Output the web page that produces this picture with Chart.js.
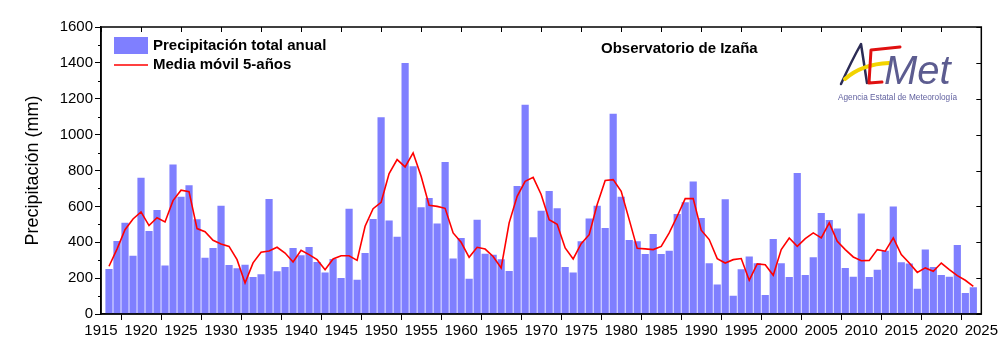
<!DOCTYPE html>
<html>
<head>
<meta charset="utf-8">
<script src="https://cdn.jsdelivr.net/npm/chart.js@4.4.1/dist/chart.umd.min.js"></script>
<style>
  html, body { margin: 0; padding: 0; background: #fff; }
  canvas { display: block; }
</style>
</head>
<body>
<canvas id="chart" width="1000" height="361"></canvas>
<script>
// annual precipitation at Izaña, 1916-2024 (mm)
const years = [];
for (let y = 1916; y <= 2024; y++) years.push(y);

const precip = [
  251, 407, 509, 325, 760, 463, 580, 271, 833, 654,   // 1916-1925
  718, 528, 314, 368, 604, 273, 255, 275, 206, 221,   // 1926-1935
  641, 238, 262, 368, 327, 374, 290, 232, 307, 201,   // 1936-1945
  587, 191, 340, 530, 1097, 521, 431, 1400, 824, 595, // 1946-1955
  647, 504, 848, 309, 424, 197, 526, 336, 331, 305,   // 1956-1965
  240, 714, 1167, 428, 576, 686, 589, 262, 232, 405,  // 1966-1975
  532, 604, 480, 1117, 654, 413, 405, 335, 446, 335,  // 1976-1985
  353, 558, 623, 738, 535, 283, 164, 640, 102, 249,   // 1986-1995
  320, 283, 106, 418, 283, 206, 786, 217, 316, 563,   // 1996-2005
  524, 476, 257, 208, 560, 206, 247, 353, 599, 288,   // 2006-2015
  281, 141, 359, 262, 217, 208, 385, 117, 149          // 2016-2024
];

const movingAvg = [
  266, 362, 470, 530, 569, 493, 537, 513, 632, 690,
  682, 476, 459, 411, 390, 377, 303, 173, 285, 344,
  351, 372, 340, 290, 355, 331, 303, 247, 307, 325,
  325, 299, 489, 587, 623, 783, 861, 820, 898, 768,
  606, 600, 589, 452, 400, 316, 372, 362, 321, 257,
  508, 656, 740, 762, 666, 526, 500, 368, 307, 392,
  442, 610, 744, 749, 684, 526, 366, 363, 359, 377,
  452, 545, 643, 643, 467, 415, 309, 284, 303, 309,
  188, 279, 275, 216, 359, 424, 377, 420, 452, 424,
  508, 405, 359, 318, 297, 299, 359, 350, 424, 331,
  284, 232, 257, 238, 284, 247, 214, 188, 154
];

const yTicks = [0, 200, 400, 600, 800, 1000, 1200, 1400, 1600];
const xTickStep = 5;

const BAR = '#7f7fff';
const LINE = '#ff0000';
const SANS = "'Liberation Sans', Arial, sans-serif";

// frame, inward mirror ticks, minor ticks on the left axis
const frame = {
  id: 'frame',
  afterDatasetsDraw(chart) {
    const { ctx, chartArea: a, scales: { x, y } } = chart;
    ctx.save();
    ctx.strokeStyle = '#000';
    ctx.lineWidth = 1.5;
    ctx.strokeRect(a.left, a.top, a.right - a.left, a.bottom - a.top);
    ctx.lineWidth = 1;
    ctx.beginPath();
    x.ticks.forEach(t => {
      const px = Math.round(x.getPixelForValue(t.value)) + 0.5;
      ctx.moveTo(px, a.top);
      ctx.lineTo(px, a.top + 5);
    });
    y.ticks.forEach(t => {
      const py = Math.round(y.getPixelForValue(t.value)) + 0.5;
      ctx.moveTo(a.right, py);
      ctx.lineTo(a.right - 5, py);
    });
    for (let v = 100; v < 1600; v += 200) {
      const py = Math.round(y.getPixelForValue(v)) + 0.5;
      ctx.moveTo(a.left - 3, py);
      ctx.lineTo(a.left, py);
    }
    ctx.stroke();
    ctx.restore();
  }
};

// legend box, station name and logo inside the plot
const annotations = {
  id: 'annotations',
  afterDraw(chart) {
    const { ctx, chartArea: a } = chart;
    const ds = chart.data.datasets;
    const bars = ds.find(d => d.type !== 'line');
    const line = ds.find(d => d.type === 'line');
    const lx = a.left + 13;
    ctx.save();
    ctx.fillStyle = bars.backgroundColor;
    ctx.fillRect(lx, 37, 34, 17);
    ctx.strokeStyle = line.borderColor;
    ctx.lineWidth = 1.5;
    ctx.beginPath();
    ctx.moveTo(lx, 65);
    ctx.lineTo(lx + 34, 65);
    ctx.stroke();

    ctx.fillStyle = '#000';
    ctx.font = 'bold 15px ' + SANS;
    ctx.textBaseline = 'middle';
    ctx.textAlign = 'left';
    ctx.fillText(bars.label, lx + 39, 46);
    ctx.fillText(line.label, lx + 39, 65);
    ctx.fillText('Observatorio de Izaña', 601, 49);

    // AEMet logo
    ctx.lineCap = 'round';
    ctx.lineJoin = 'round';
    ctx.strokeStyle = '#2b2b55';
    ctx.lineWidth = 2.5;
    ctx.beginPath();
    ctx.moveTo(841, 84);
    ctx.quadraticCurveTo(852, 60, 861, 44);
    ctx.lineTo(867, 83);
    ctx.stroke();
    ctx.strokeStyle = '#f2d300';
    ctx.lineWidth = 4;
    ctx.beginPath();
    ctx.moveTo(845, 79);
    ctx.quadraticCurveTo(862, 64, 889, 63);
    ctx.stroke();
    ctx.strokeStyle = '#e01010';
    ctx.lineWidth = 3;
    ctx.beginPath();
    ctx.moveTo(900, 47);
    ctx.lineTo(871, 50);
    ctx.lineTo(869, 83);
    ctx.lineTo(882, 82);
    ctx.stroke();
    ctx.fillStyle = '#5c5c90';
    ctx.font = 'italic 40px ' + SANS;
    ctx.textBaseline = 'alphabetic';
    ctx.fillText('Met', 884, 84, 80);
    ctx.font = '9px ' + SANS;
    ctx.fillStyle = '#6262a0';
    ctx.fillText('Agencia Estatal de Meteorología', 838, 100, 119);
    ctx.restore();
  }
};

new Chart(document.getElementById('chart'), {
  type: 'bar',
  data: {
    datasets: [
      {
        type: 'line',
        label: 'Media móvil 5-años',
        data: years.map((yr, i) => ({ x: yr, y: movingAvg[i] })),
        borderColor: LINE,
        borderWidth: 1.6,
        pointRadius: 0,
        tension: 0,
        order: 0
      },
      {
        type: 'bar',
        label: 'Precipitación total anual',
        data: years.map((yr, i) => ({ x: yr, y: precip[i] })),
        backgroundColor: BAR,
        borderWidth: 0,
        barPercentage: 0.9,
        categoryPercentage: 1.0,
        order: 1
      }
    ]
  },
  options: {
    responsive: false,
    animation: false,
    layout: { padding: { top: 27, right: 18, left: 0, bottom: 0 } },
    plugins: {
      legend: { display: false },
      tooltip: { enabled: false }
    },
    scales: {
      x: {
        type: 'linear',
        min: 1915,
        max: 2025,
        offset: false,
        afterFit: s => { s.height = 47; },
        ticks: {
          stepSize: xTickStep,
          autoSkip: false,
          maxRotation: 0,
          padding: 2,
          color: '#000',
          font: { family: SANS, size: 15 },
          callback: v => String(v)
        },
        grid: { drawOnChartArea: false, tickLength: 6, color: '#000', lineWidth: 1 },
        border: { color: '#000', width: 1.5 }
      },
      y: {
        min: 0,
        max: 1600,
        afterFit: s => { s.width = 101; },
        afterBuildTicks: s => { s.ticks = yTicks.map(v => ({ value: v })); },
        ticks: {
          padding: 2,
          color: '#000',
          font: { family: SANS, size: 15 },
          callback: v => String(v)
        },
        grid: { drawOnChartArea: false, tickLength: 6, color: '#000', lineWidth: 1 },
        border: { color: '#000', width: 1.5 },
        title: {
          display: true,
          text: 'Precipitación (mm)',
          color: '#000',
          font: { family: SANS, size: 18 },
          padding: { top: 22, bottom: 0 }
        }
      }
    }
  },
  plugins: [frame, annotations]
});
</script>
</body>
</html>
